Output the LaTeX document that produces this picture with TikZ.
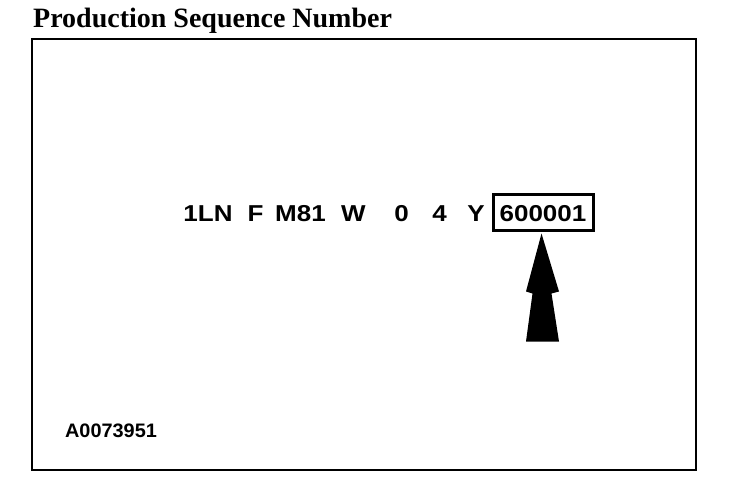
\documentclass[tikz,border=0pt]{standalone}
\usepackage{fontspec}
\setmainfont{Liberation Serif}
\newfontfamily\labelfont{Liberation Sans}
\usetikzlibrary{positioning,calc}

\begin{document}
\begin{tikzpicture}[
  x=1pt, y=1pt,
  title/.style={font=\fontsize{28}{31}\selectfont\bfseries, inner sep=0pt, anchor=base west},
  code/.style={font=\labelfont\fontsize{23}{26}\selectfont\bfseries, inner sep=0pt, anchor=base, xscale=1.13, transform shape},
  seqbox/.style={draw, line width=3pt, minimum width=100pt, minimum height=36pt, inner sep=0pt},
  ref/.style={font=\labelfont\fontsize{19.5}{22}\selectfont\bfseries, inner sep=0pt, anchor=base, xscale=1.02, transform shape},
]
\useasboundingbox (0,0) rectangle (736,-496);
\node[title] (head) at (33,-27) {Production Sequence Number};
\draw[line width=2.6pt] (32,-39) rectangle (696,-470);

% VIN characters
\node[code] (wmi) at (208,-221) {1LN};
\node[code] (restr) at (255.5,-221) {F};
\node[code] (model) at (300.5,-221) {M81};
\node[code] (body) at (353.5,-221) {W};
\node[code] (check) at (401.5,-221) {0};
\node[code] (year) at (439.5,-221) {4};
\node[code] (plant) at (476,-221) {Y};
\node[seqbox] (seq) at (543,-212) {};
\node[code] (seqnum) at (543,-221) {600001};

% pointer
\coordinate (tip) at ($(seq.south)+(-1.5,-2)$);
\fill (tip) -- ++(17.5,-58) -- ++(-7.5,-2) -- ++(7.5,-48) -- ++(-33,0) -- ++(6.5,48) -- ++(-6.5,2) -- cycle;

\node[ref] (code) at (111,-437) {A0073951};
\end{tikzpicture}
\end{document}
